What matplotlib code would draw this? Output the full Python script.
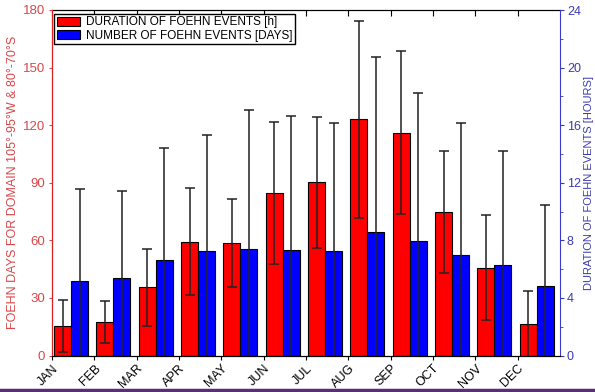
import matplotlib
matplotlib.use("Agg")
import matplotlib.pyplot as plt
import numpy as np
from matplotlib.lines import Line2D
from matplotlib.patches import Patch

plt.rcParams["font.family"] = ["Liberation Sans", "DejaVu Sans"]

months = ["JAN", "FEB", "MAR", "APR", "MAY", "JUN", "JUL", "AUG", "SEP", "OCT", "NOV", "DEC"]
red_vals = [15.4, 17.5, 35.5, 59.3, 58.6, 84.8, 90.2, 123.1, 116.1, 74.9, 45.8, 16.4]
red_err = [13.5, 11.0, 20.0, 28.0, 23.0, 37.0, 34.0, 51.3, 42.5, 31.7, 27.2, 17.0]
blue_vals = [5.19, 5.37, 6.63, 7.24, 7.38, 7.31, 7.24, 8.58, 7.93, 7.00, 6.29, 4.85]
blue_err = [6.36, 6.07, 7.77, 8.08, 9.64, 9.36, 8.89, 12.13, 10.33, 9.17, 7.89, 5.63]
left_ticks = [0, 30, 60, 90, 120, 150, 180]
right_ticks = [0, 4, 8, 12, 16, 20, 24]

RED = "#ff0000"
BLUE = "#0000ff"
RED_TXT = "#d9474a"
BLUE_TXT = "#3a3ab0"

fig = plt.figure(figsize=(5.95, 3.92), dpi=100)
ax = fig.add_axes([52/595, 1-355.5/392, (560-52)/595, (355.5-10)/392])
ax2 = ax.twinx()

x = np.arange(len(months))
w = 0.4
ax.bar(x + 0.25, red_vals, width=w, color=RED, edgecolor="black", linewidth=0.8, zorder=2)
ax.errorbar(x + 0.25, red_vals, yerr=red_err, fmt="none", ecolor="#222222",
            elinewidth=1.1, capsize=3.5, capthick=1.1, zorder=3)
ax2.bar(x + 0.65, blue_vals, width=w, color=BLUE, edgecolor="black", linewidth=0.8, zorder=2)
ax2.errorbar(x + 0.65, blue_vals, yerr=blue_err, fmt="none", ecolor="#222222",
             elinewidth=1.1, capsize=3.5, capthick=1.1, zorder=3)

ax.set_xlim(0, 12)
ax.set_ylim(0, 180)
ax2.set_ylim(0, 24)

ax.set_xticks(x)
ax.set_xticklabels(months, rotation=45, ha="right", rotation_mode="anchor", fontsize=9)
ax.tick_params(axis="x", direction="out", length=3, pad=2)
ax.set_yticks(left_ticks)
ax.tick_params(axis="y", colors=RED_TXT, labelsize=9.5, length=2, pad=3)
ax2.set_yticks(right_ticks)
ax2.set_yticks(np.arange(2, 24, 4), minor=True)
ax2.tick_params(axis="y", which="major", colors=BLUE_TXT, labelsize=9, length=3, pad=2)
ax2.tick_params(axis="y", which="minor", colors=BLUE_TXT, length=2)
secx = ax.secondary_xaxis("top")
secx.set_xticks(x)
secx.set_xticklabels([])
secx.tick_params(direction="in", length=4)

ax.spines["left"].set_color("#e02020")
ax2.spines["left"].set_color("#e02020")
ax2.spines["right"].set_color("#3a3ad0")
ax.spines["right"].set_visible(False)
ax2.spines["top"].set_visible(False)

ax.set_ylabel("FOEHN DAYS FOR DOMAIN 105°-95°W & 80°-70°S", color=RED_TXT, fontsize=9, labelpad=3)
ax2.set_ylabel("DURATION OF FOEHN EVENTS [HOURS]", color=BLUE_TXT, fontsize=8,
               va="center", rotation=90)
ax2.yaxis.set_label_coords(1.0 + 29/508, 0.5)

handles = [Patch(facecolor=RED, edgecolor="black", linewidth=0.8),
           Patch(facecolor=BLUE, edgecolor="black", linewidth=0.8)]
leg = ax2.legend(handles, ["DURATION OF FOEHN EVENTS [h]", "NUMBER OF FOEHN EVENTS [DAYS]"],
                 loc="upper left", bbox_to_anchor=(0.0, 0.995), fontsize=8.5, frameon=True,
                 fancybox=False, edgecolor="black", framealpha=1, borderpad=0.2,
                 labelspacing=0.1, handlelength=2.0, handleheight=0.8, handletextpad=0.5,
                 borderaxespad=0.2)
leg.get_frame().set_linewidth(1.0)

fig.add_artist(Line2D([0, 1], [2.5/392, 2.5/392], color="#5a2d78", linewidth=2.5,
                      transform=fig.transFigure))

fig.savefig("out.png", dpi=100)
